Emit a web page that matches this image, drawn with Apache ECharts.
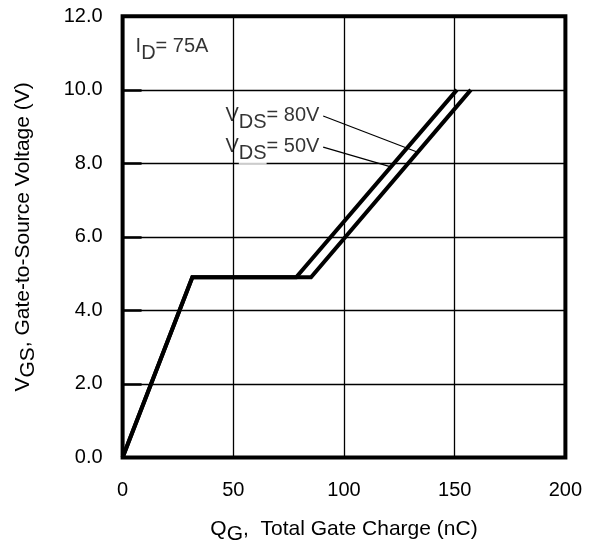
<!DOCTYPE html>
<html>
<head>
<meta charset="utf-8">
<script src="https://cdn.jsdelivr.net/npm/echarts@6/dist/echarts.min.js"></script>
<style>
html,body{margin:0;padding:0;background:#fff;overflow:hidden;}
#chart{width:593px;height:541px;}
</style>
</head>
<body>
<div id="chart"></div>
<script>
// Data
const xTicks = [0, 50, 100, 150, 200];
const yTicks = ['0.0', '2.0', '4.0', '6.0', '8.0', '10.0', '12.0'];

const qgVds50 = [0, 31.5, 78.4, 151.0];
const vgsVds50 = [0, 4.9, 4.9, 10.0];
const qgVds80 = [0, 31.5, 85.1, 157.3];
const vgsVds80 = [0, 4.9, 4.9, 10.0];

// leader lines from labels to curves (data coordinates)
const leader80x = [90.6, 133.0];
const leader80y = [9.29, 8.31];
const leader50x = [90.6, 120.8];
const leader50y = [8.44, 7.91];

// annotation anchors (data coordinates) and texts
const labelIdPos = [6.1, 11.43];
const label80Pos = [46.7, 9.56];
const label50Pos = [46.7, 8.72];
const labelIdText = '{n|I}{s|D}{n|= 75A}';
const label80Text = '{n|V}{w|DS}{n|= 80V}';
const label50Text = '{n|V}{w|DS}{n|= 50V}';

const FONT = "'Liberation Sans', Arial, Helvetica, sans-serif";
const FS = 20;
const FT = 21;

const zip = (a, b) => a.map((v, i) => [v, b[i]]);

const rich = {
  n: { fontSize: FS, lineHeight: 20, verticalAlign: 'top', color: '#000', fontFamily: FONT },
  s: { fontSize: FS, lineHeight: 20, verticalAlign: 'top', color: '#000', fontFamily: FONT, padding: [7, 0, 0, 0] },
  w: { fontSize: FS, lineHeight: 20, verticalAlign: 'top', color: '#000', fontFamily: FONT, padding: [7, 0, 1, 0], backgroundColor: '#fff' }
};
const axRich = {
  n: { fontSize: FT, lineHeight: 21, verticalAlign: 'top', color: '#000', fontFamily: FONT },
  s: { fontSize: FT, lineHeight: 21, verticalAlign: 'top', color: '#000', fontFamily: FONT, padding: [5, 0, 0, 0] }
};

function textPoint(pos, text) {
  return {
    type: 'scatter',
    data: [pos],
    symbolSize: 1,
    itemStyle: { color: 'rgba(0,0,0,0)' },
    silent: true,
    z: 5,
    label: {
      show: true,
      position: [0, 0],
      align: 'left',
      verticalAlign: 'top',
      formatter: text,
      rich: rich
    }
  };
}

function curve(xs, ys, width) {
  return {
    type: 'line',
    data: zip(xs, ys),
    symbol: 'none',
    silent: true,
    clip: false,
    lineStyle: { color: '#000', width: width, cap: 'butt', join: 'miter' },
    z: 4
  };
}

const chart = echarts.init(document.getElementById('chart'), null, { renderer: 'canvas' });
chart.setOption({
  animation: false,
  backgroundColor: '#fff',
  grid: {
    left: 122.6, right: 593 - 565.4, top: 16.3, bottom: 541 - 457.5,
    outerBoundsMode: 'none',
    containLabel: false,
    show: true, borderColor: '#000', borderWidth: 4, backgroundColor: 'transparent', z: 3
  },
  xAxis: {
    type: 'value', min: xTicks[0], max: xTicks[xTicks.length - 1], interval: 50,
    axisLine: { show: false },
    axisTick: { show: false },
    splitLine: { show: true, lineStyle: { color: '#000', width: 1.3 } },
    axisLabel: { margin: 23, color: '#000', fontSize: FS, fontFamily: FONT,
      formatter: v => (xTicks.indexOf(v) >= 0 ? String(v) : '') },
    name: '{n|Q}{s|G}{n|,  Total Gate Charge (nC)}',
    nameLocation: 'middle',
    nameGap: 61.5,
    nameTextStyle: { verticalAlign: 'top', align: 'center', rich: axRich }
  },
  yAxis: {
    type: 'value', min: 0, max: 12, interval: 2,
    axisLine: { show: false },
    axisTick: { show: true, inside: true, length: 19, lineStyle: { color: '#000', width: 2.5 } },
    splitLine: { show: true, lineStyle: { color: '#000', width: 1.3 } },
    axisLabel: { margin: 20, color: '#000', fontSize: FS, fontFamily: FONT,
      formatter: v => yTicks[Math.round(v / 2)] },
    name: '{n|V}{s|GS}{n|, Gate-to-Source Voltage (V)}',
    nameLocation: 'middle',
    nameGap: 89,
    nameRotate: 90,
    nameTextStyle: { verticalAlign: 'bottom', align: 'center', rich: axRich }
  },
  series: [
    curve(qgVds50, vgsVds50, 4),
    curve(qgVds80, vgsVds80, 4),
    curve(leader80x, leader80y, 1.2),
    curve(leader50x, leader50y, 1.2),
    textPoint(labelIdPos, labelIdText),
    textPoint(label80Pos, label80Text),
    textPoint(label50Pos, label50Text)
  ]
});
</script>
</body>
</html>
